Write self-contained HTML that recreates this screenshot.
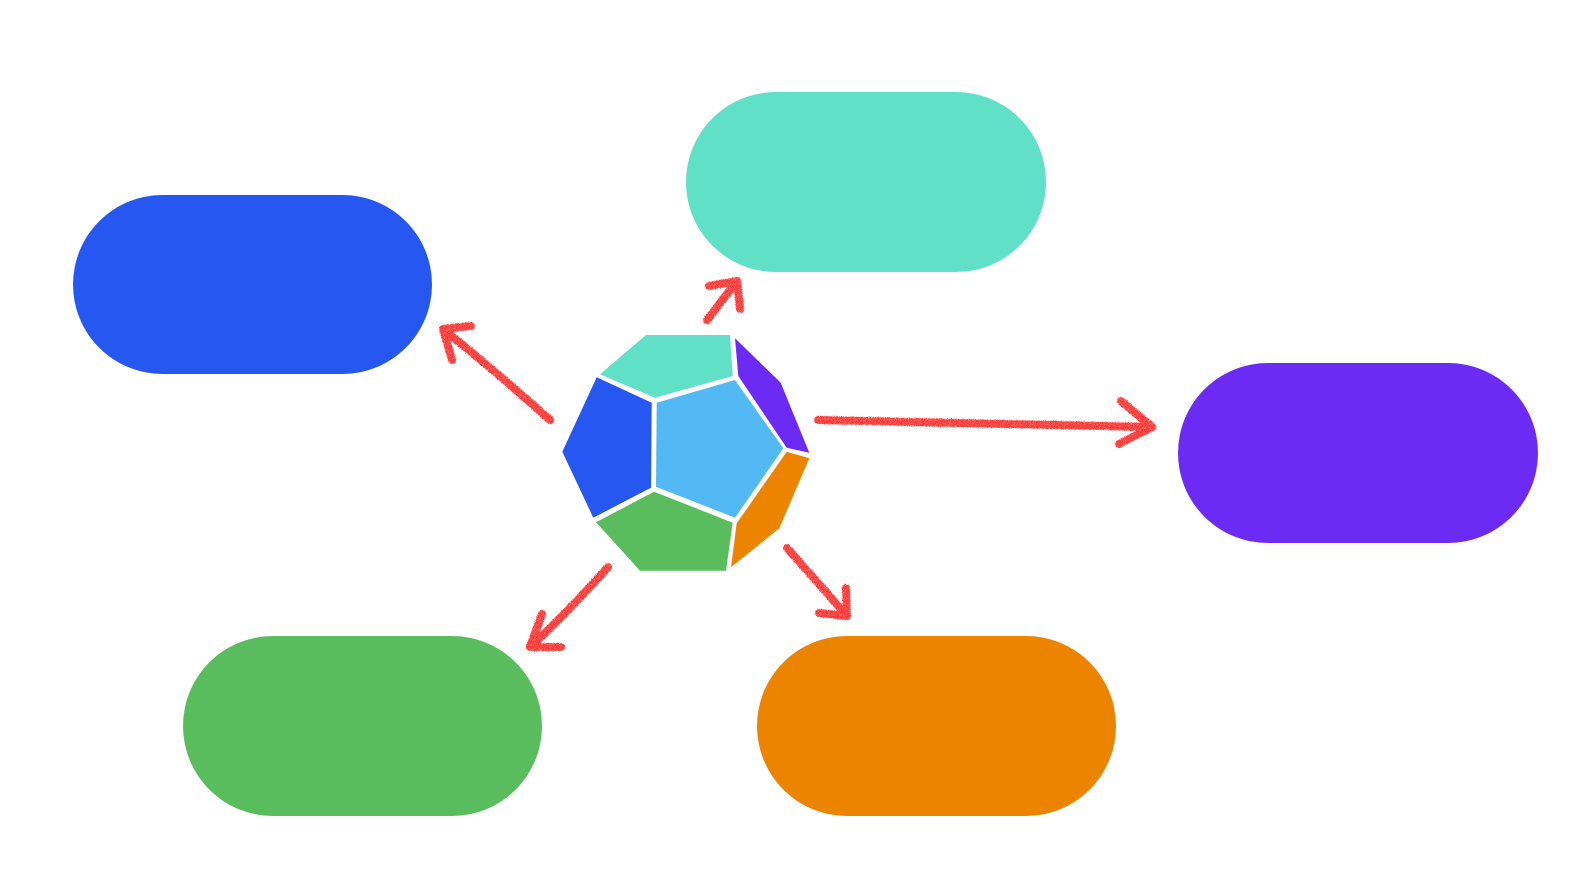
<!DOCTYPE html>
<html>
<head>
<meta charset="utf-8">
<style>
  html, body { margin:0; padding:0; background:#ffffff; }
  body { width:1592px; height:888px; overflow:hidden; }
  svg { display:block; }
</style>
</head>
<body>
<svg width="1592" height="888" viewBox="0 0 1592 888" xmlns="http://www.w3.org/2000/svg">
  <defs>
    <filter id="rough" x="-10%" y="-10%" width="120%" height="120%">
      <feTurbulence type="fractalNoise" baseFrequency="1.2" numOctaves="2" seed="5" result="n"/>
      <feDisplacementMap in="SourceGraphic" in2="n" scale="3" xChannelSelector="R" yChannelSelector="G" result="d"/>
      <feTurbulence type="fractalNoise" baseFrequency="2.2" numOctaves="1" seed="9" result="g"/>
      <feColorMatrix in="g" type="matrix" values="0 0 0 0 0  0 0 0 0 0  0 0 0 0 0  0 0 0 -2.2 2.1" result="ga"/>
      <feComposite in="d" in2="ga" operator="in"/>
    </filter>
  </defs>
  <rect width="1592" height="888" fill="#ffffff"/>

  <!-- pills -->
  <rect x="73" y="195" width="359" height="179" rx="89.5" fill="#2757f1"/>
  <rect x="686" y="92" width="360" height="180" rx="90" fill="#61e0c8"/>
  <rect x="1178" y="363" width="360" height="180" rx="90" fill="#6c2af5"/>
  <rect x="183" y="636" width="359" height="180" rx="90" fill="#5abd5d"/>
  <rect x="757" y="636" width="359" height="180" rx="90" fill="#ed8400"/>

  <!-- dodecahedron -->
  <polygon points="646,335 730,335 732.7,376 655,397.7 600,374.3" fill="#61e0c8"/>
  <polygon points="596.7,377.3 651.7,402.7 651,487.7 593.3,517.7 562.3,451.7" fill="#2757f1"/>
  <polygon points="656.7,402.7 735,380 783.3,448.3 735,517.7 656,486.7" fill="#52b9f5"/>
  <polygon points="735,338.3 780.7,382.7 809.3,452.7 786.7,447.7 738.3,376" fill="#6c2af5"/>
  <polygon points="786.7,451.7 809.3,458.3 779.3,528.3 731,567.3 736.7,523.3" fill="#ed8400"/>
  <polygon points="654,491.7 732.7,522.7 726,570.7 640,570.7 596,522.3" fill="#5abd5d"/>

  <!-- arrows -->
  <g stroke="#fb3430" stroke-width="8" fill="none" stroke-linecap="round" stroke-linejoin="round" filter="url(#rough)">
    <!-- up -->
    <path d="M707,320 L737,281"/>
    <path d="M709,286 L737,281 L740,309"/>
    <!-- up-left -->
    <path d="M550,420 Q500,375 443,329"/>
    <path d="M471,326 L443,329 L452,360"/>
    <!-- right -->
    <path d="M818,420 L1152,427"/>
    <path d="M1121,401 L1152,427 L1119,444"/>
    <!-- down-left -->
    <path d="M608,567 Q570,610 530,647"/>
    <path d="M542,614 L530,647 L561,647"/>
    <!-- down-right -->
    <path d="M787,548 Q820,585 847,616"/>
    <path d="M846,588 L847,616 L819,613"/>
  </g>
</svg>
</body>
</html>
